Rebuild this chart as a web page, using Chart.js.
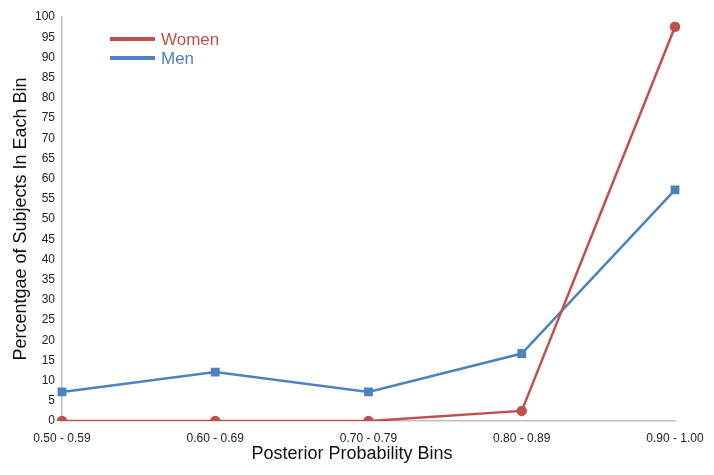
<!DOCTYPE html>
<html>
<head>
<meta charset="utf-8">
<script src="https://cdn.jsdelivr.net/npm/chart.js@4/dist/chart.umd.min.js"></script>
<style>
html,body{margin:0;padding:0;background:#fff;}
#wrap{width:714px;height:475px;}
</style>
</head>
<body>
<div id="wrap"><canvas id="c" width="714" height="475"></canvas></div>
<script>
const categories = ["0.50 - 0.59", "0.60 - 0.69", "0.70 - 0.79", "0.80 - 0.89", "0.90 - 1.00"];
const women = [0, 0, 0, 2.5, 97.6];
const men = [7.2, 12.1, 7.2, 16.7, 57.2];
const yTicks = [0,5,10,15,20,25,30,35,40,45,50,55,60,65,70,75,80,85,90,95,100];
const xTitle = 'Posterior Probability Bins';
const yTitle = 'Percentgae of Subjects In Each Bin';

const RED = "#C0504D";
const BLUE = "#4F81BD";
const tickFont = {family: "'Liberation Sans Narrow', 'Arial Narrow', 'Liberation Sans', Arial", size: 12};

const legendPlugin = {
  id: 'insideLegend',
  afterDraw(chart) {
    const ctx = chart.ctx;
    ctx.save();
    chart.data.datasets.forEach((ds, i) => {
      const y = 39 + i * 19;
      ctx.strokeStyle = ds.borderColor;
      ctx.lineWidth = 4;
      ctx.beginPath();
      ctx.moveTo(110, y);
      ctx.lineTo(155, y);
      ctx.stroke();
      ctx.fillStyle = ds.borderColor;
      ctx.font = "17px 'Liberation Sans', Arial";
      ctx.textBaseline = 'middle';
      ctx.textAlign = 'left';
      ctx.fillText(ds.label, 161, y + 1);
    });
    ctx.font = "18px 'Liberation Sans', Arial";
    ctx.fillStyle = '#111';
    ctx.textAlign = 'center';
    ctx.textBaseline = 'middle';
    ctx.fillText(xTitle, 352, 454);
    ctx.restore();
  }
};

new Chart(document.getElementById('c'), {
  type: 'line',
  data: {
    labels: categories,
    datasets: [
      {label: 'Women', data: women, borderColor: RED, backgroundColor: RED, borderWidth: 2.5,
       pointStyle: 'circle', pointRadius: 4, pointHoverRadius: 4, tension: 0},
      {label: 'Men', data: men, borderColor: BLUE, backgroundColor: BLUE, borderWidth: 2.5,
       pointStyle: 'rect', pointRadius: 4.5, pointHoverRadius: 4.5, tension: 0}
    ]
  },
  options: {
    responsive: false,
    animation: false,
    events: [],
    layout: {padding: {top: 17, right: 39, left: 0, bottom: 0}},
    plugins: {legend: {display: false}, tooltip: {enabled: false}},
    scales: {
      x: {
        offset: false,
        grid: {display: false, drawTicks: false},
        border: {display: true, color: '#bfbfbf', width: 1.5},
        ticks: {color: '#222', font: tickFont, padding: 10, maxRotation: 0, autoSkip: false},
        title: {display: false},
        afterFit(s) { s.height = 54; }
      },
      y: {
        min: 0, max: 100,
        afterBuildTicks(s) { s.ticks = yTicks.map(v => ({value: v})); },
        grid: {display: false, drawTicks: false},
        border: {display: true, color: '#bfbfbf', width: 1.5},
        ticks: {color: '#222', font: tickFont, padding: 7},
        title: {display: true, text: yTitle, color: '#111',
                font: {family: "'Liberation Sans', Arial", size: 18}, padding: {top: 10, bottom: 4}},
        afterFit(s) { s.width = 62; }
      }
    }
  },
  plugins: [legendPlugin]
});
</script>
</body>
</html>
